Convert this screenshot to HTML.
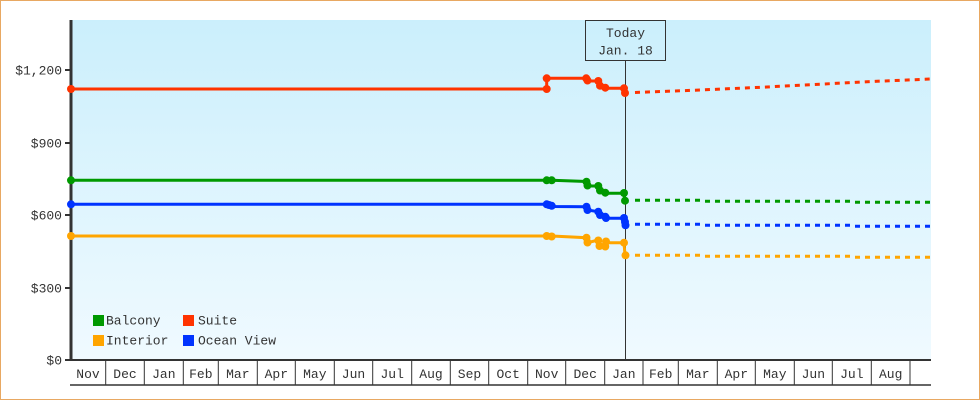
<!DOCTYPE html>
<html><head><meta charset="utf-8">
<style>
html,body{margin:0;padding:0;background:#fff;}
svg{display:block;}
text{font-family:"Liberation Mono","DejaVu Sans Mono",monospace;font-size:13px;fill:#333;}
</style></head>
<body>
<svg width="980" height="400" viewBox="0 0 980 400" xmlns="http://www.w3.org/2000/svg">
<defs>
<linearGradient id="bg" x1="0" y1="0" x2="0" y2="1">
<stop offset="0" stop-color="#cbeffc"/>
<stop offset="1" stop-color="#f0faff"/>
</linearGradient>
</defs>
<rect x="0.5" y="0.5" width="979" height="399" fill="#fff" stroke="#e8a862" stroke-width="1"/>
<rect x="71" y="20" width="860" height="340" fill="url(#bg)"/>

<!-- y axis -->
<line x1="71" y1="20" x2="71" y2="361" stroke="#333" stroke-width="3"/>
<g stroke="#333" stroke-width="2">
<line x1="65" y1="70" x2="71" y2="70"/>
<line x1="65" y1="143" x2="71" y2="143"/>
<line x1="65" y1="215" x2="71" y2="215"/>
<line x1="65" y1="288" x2="71" y2="288"/>
<line x1="65" y1="360" x2="71" y2="360"/>
</g>
<g text-anchor="end">
<text x="62" y="74.5">$1,200</text>
<text x="62" y="147.5">$900</text>
<text x="62" y="219.5">$600</text>
<text x="62" y="292.5">$300</text>
<text x="62" y="364.5">$0</text>
</g>

<!-- x axis -->
<line x1="70" y1="360" x2="931" y2="360" stroke="#333" stroke-width="2"/>
<line x1="70" y1="385" x2="931" y2="385" stroke="#333" stroke-width="1.5"/>
<g stroke="#333" stroke-width="1">
<line x1="105.7" y1="360" x2="105.7" y2="385"/>
<line x1="144.3" y1="360" x2="144.3" y2="385"/>
<line x1="183.3" y1="360" x2="183.3" y2="385"/>
<line x1="218.3" y1="360" x2="218.3" y2="385"/>
<line x1="257.3" y1="360" x2="257.3" y2="385"/>
<line x1="295.3" y1="360" x2="295.3" y2="385"/>
<line x1="334.3" y1="360" x2="334.3" y2="385"/>
<line x1="372.7" y1="360" x2="372.7" y2="385"/>
<line x1="411.7" y1="360" x2="411.7" y2="385"/>
<line x1="450.3" y1="360" x2="450.3" y2="385"/>
<line x1="488.7" y1="360" x2="488.7" y2="385"/>
<line x1="527.7" y1="360" x2="527.7" y2="385"/>
<line x1="565.7" y1="360" x2="565.7" y2="385"/>
<line x1="604.7" y1="360" x2="604.7" y2="385"/>
<line x1="643" y1="360" x2="643" y2="385"/>
<line x1="678.3" y1="360" x2="678.3" y2="385"/>
<line x1="717.3" y1="360" x2="717.3" y2="385"/>
<line x1="755.3" y1="360" x2="755.3" y2="385"/>
<line x1="794.3" y1="360" x2="794.3" y2="385"/>
<line x1="832.3" y1="360" x2="832.3" y2="385"/>
<line x1="871.3" y1="360" x2="871.3" y2="385"/>
<line x1="910" y1="360" x2="910" y2="385"/>
</g>
<g text-anchor="middle" style="fill:#222">
<text x="88" y="378">Nov</text>
<text x="125" y="378">Dec</text>
<text x="163.8" y="378">Jan</text>
<text x="200.8" y="378">Feb</text>
<text x="237.8" y="378">Mar</text>
<text x="276.3" y="378">Apr</text>
<text x="314.8" y="378">May</text>
<text x="353.5" y="378">Jun</text>
<text x="392.2" y="378">Jul</text>
<text x="431" y="378">Aug</text>
<text x="469.5" y="378">Sep</text>
<text x="508.2" y="378">Oct</text>
<text x="546.7" y="378">Nov</text>
<text x="585.2" y="378">Dec</text>
<text x="623.8" y="378">Jan</text>
<text x="660.7" y="378">Feb</text>
<text x="697.8" y="378">Mar</text>
<text x="736.3" y="378">Apr</text>
<text x="774.8" y="378">May</text>
<text x="813.3" y="378">Jun</text>
<text x="851.8" y="378">Jul</text>
<text x="890.7" y="378">Aug</text>
</g>

<!-- today -->
<line x1="625.5" y1="60" x2="625.5" y2="360" stroke="#333" stroke-width="1"/>
<rect x="585.5" y="20.5" width="80" height="40" fill="none" stroke="#333" stroke-width="1"/>
<text x="625.5" y="37" text-anchor="middle">Today</text>
<text x="625.5" y="54.5" text-anchor="middle">Jan. 18</text>

<!-- Suite -->
<g stroke="#ff3300" fill="#ff3300">
<polyline fill="none" stroke-width="3" points="71,89 546.7,89 546.7,78.3 586.5,78.3 587.5,81 598.3,81 599.8,86 605,87.8 605,88.3 624,88.3 625,93"/>
<path fill="none" stroke-width="3" stroke-dasharray="5 5" d="M635,92.5 L700,90 L767,87 L790,85.7 L877,81.3 L931,79"/>
<g stroke="none">
<circle cx="71" cy="89" r="4"/>
<circle cx="546.7" cy="89" r="4"/><circle cx="546.7" cy="78.3" r="4"/>
<circle cx="586.2" cy="78.3" r="4"/><circle cx="587.5" cy="80.5" r="4"/>
<circle cx="598.3" cy="81" r="4"/><circle cx="600" cy="85.7" r="4"/>
<circle cx="605.3" cy="87.7" r="4"/>
<circle cx="624" cy="88.3" r="4"/><circle cx="625" cy="93" r="4"/>
</g>
</g>

<!-- Balcony -->
<g stroke="#009900" fill="#009900">
<polyline fill="none" stroke-width="3" points="71,180.3 551.7,180.3 586.5,181.5 587.5,186 598.3,186 599.8,190.7 605,192.7 605,193.3 624,193.3 625,200.5"/>
<path fill="none" stroke-width="3" stroke-dasharray="5 5" d="M635,200.3 L700,200.3 M705,201.3 L850,201.3 M855,202.3 L931,202.3"/>
<g stroke="none">
<circle cx="71" cy="180.3" r="4"/>
<circle cx="546.7" cy="180.3" r="4"/><circle cx="551.7" cy="180.3" r="4"/>
<circle cx="586.5" cy="181.7" r="4"/><circle cx="587.5" cy="185.5" r="4"/>
<circle cx="598.3" cy="186" r="4"/><circle cx="600" cy="190.5" r="4"/>
<circle cx="605.3" cy="192.7" r="4"/>
<circle cx="624" cy="193" r="4"/><circle cx="625" cy="200.7" r="4"/>
</g>
</g>

<!-- Ocean View -->
<g stroke="#0033ff" fill="#0033ff">
<polyline fill="none" stroke-width="3" points="71,204.3 546.7,204.3 551.7,206.5 586.5,206.7 587.5,210 598.3,211.7 599.8,215 605,216.7 605,218.3 624,218.3 625,225"/>
<path fill="none" stroke-width="3" stroke-dasharray="5 5" d="M635,224.3 L700,224.3 M705,225.3 L850,225.3 M855,226.3 L931,226.3"/>
<g stroke="none">
<circle cx="71" cy="204.3" r="4"/>
<circle cx="546.7" cy="204.3" r="4"/><circle cx="549" cy="205" r="4"/><circle cx="551.7" cy="205.8" r="4"/>
<circle cx="586.5" cy="206.7" r="4"/><circle cx="587.5" cy="210" r="4"/>
<circle cx="598.3" cy="211.7" r="4"/><circle cx="600" cy="215" r="4"/>
<circle cx="605.3" cy="216.7" r="4"/><circle cx="606" cy="218" r="4"/>
<circle cx="624" cy="218" r="4"/><circle cx="625" cy="222" r="4"/><circle cx="625.5" cy="225.3" r="4"/>
</g>
</g>

<!-- Interior -->
<g stroke="#ffa500" fill="#ffa500">
<polyline fill="none" stroke-width="3" points="71,236 551.7,236 586.5,237.7 587.5,242.7 598.3,240 599.8,246.7 605,246.7 606,242.7 624,242.7 625,255"/>
<path fill="none" stroke-width="3" stroke-dasharray="5 5" d="M635,255.3 L700,255.3 M705,256.3 L850,256.3 M855,257.3 L931,257.3"/>
<g stroke="none">
<circle cx="71" cy="236" r="4"/>
<circle cx="546.7" cy="236" r="4"/><circle cx="551.7" cy="236.5" r="4"/>
<circle cx="586.5" cy="237.7" r="4"/><circle cx="587.5" cy="242.5" r="4"/>
<circle cx="598.3" cy="240.5" r="4"/><circle cx="599.5" cy="246" r="4"/>
<circle cx="605.3" cy="246.5" r="4"/><circle cx="606" cy="241.5" r="4"/>
<circle cx="624" cy="242.7" r="4"/><circle cx="625.5" cy="255.3" r="4"/>
</g>
</g>

<!-- legend -->
<rect x="93" y="315" width="11" height="11" fill="#009900"/>
<text x="106" y="324.5">Balcony</text>
<rect x="183" y="315" width="11" height="11" fill="#ff3300"/>
<text x="198" y="324.5">Suite</text>
<rect x="93" y="335" width="11" height="11" fill="#ffa500"/>
<text x="106" y="344.5">Interior</text>
<rect x="183" y="335" width="11" height="11" fill="#0033ff"/>
<text x="198" y="344.5">Ocean View</text>
</svg>
</body></html>
